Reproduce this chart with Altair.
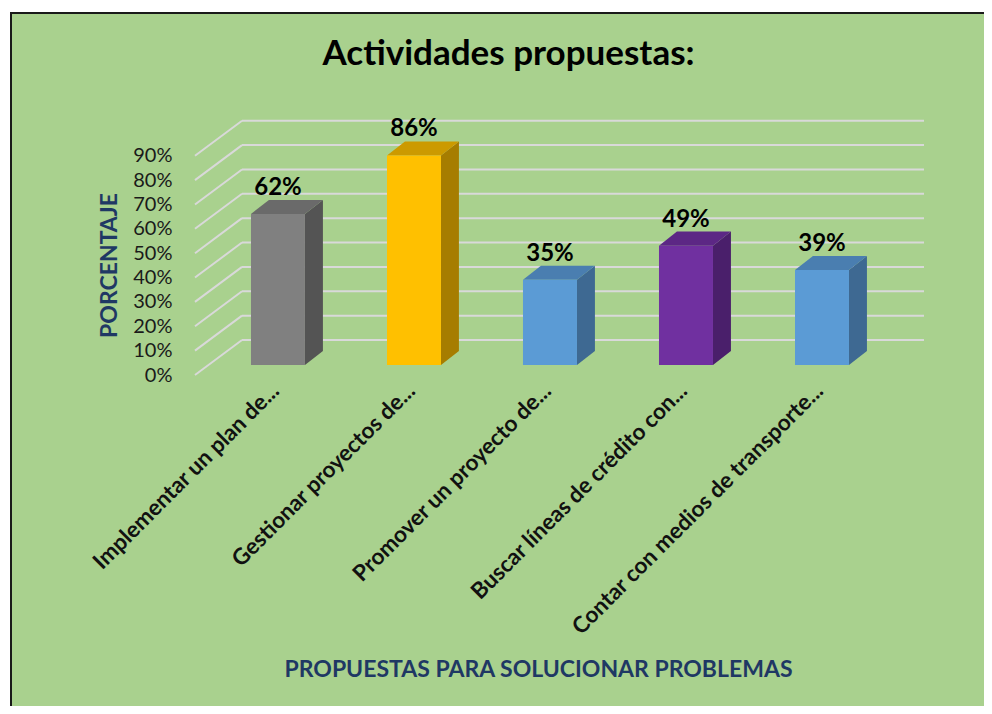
import json
import altair as alt
import pandas as pd

# ---------------- data ----------------
CATEGORIES = [
    "Implementar un plan de...",
    "Gestionar  proyectos de...",
    "Promover un proyecto de...",
    "Buscar líneas de crédito con...",
    "Contar con medios de transporte...",
]
VALUES = [0.62, 0.86, 0.35, 0.49, 0.39]
TICKS = [0.0, 0.1, 0.2, 0.3, 0.4, 0.5, 0.6, 0.7, 0.8, 0.9]

TITLE = "Actividades propuestas:"
X_TITLE = "PROPUESTAS PARA SOLUCIONAR PROBLEMAS"
Y_TITLE = "PORCENTAJE"

# ---------------- styles ----------------
FRONT = ["#808080", "#FFC000", "#5B9BD5", "#7030A0", "#5B9BD5"]
TOP = ["#6A6A6A", "#CC9A00", "#4A7EB0", "#5C2785", "#4A7EB0"]
SIDE = ["#545454", "#A67D00", "#3E6992", "#4A1F6B", "#3E6992"]
BG = "#A9D18E"
GRID = "#D9D9D9"
NAVY = "#1F3864"
FONT = "Lato"

# pseudo-3D geometry (in scale units)
HALF_W = 0.1985
SIDE_X = 0.132
SIDE_Y = 0.0575
BASE_Y = 0.041
WALL_X = 0.3456
WALL_Y = 0.1437
X_DOMAIN = [-0.61, 4.75]
Y_DOMAIN = [0.0, 1.1]

# ---------------- tables ----------------
bars = pd.DataFrame({
    "i": list(range(len(CATEGORIES))),
    "cat": CATEGORIES,
    "v": VALUES,
    "front": FRONT,
})
bars["x0"] = bars["i"] - HALF_W
bars["x1"] = bars["i"] + HALF_W
bars["y0"] = BASE_Y
bars["y1"] = BASE_Y + bars["v"]
bars["ylab"] = bars["y1"] + SIDE_Y
bars["label"] = [f"{round(v * 100)}%" for v in VALUES]

side_rows, top_rows = [], []
for i, (c, v) in enumerate(zip(CATEGORIES, VALUES)):
    side_rows.append({"cat": c, "col": SIDE[i], "x": i + HALF_W, "yu": BASE_Y + v, "yl": BASE_Y})
    side_rows.append({"cat": c, "col": SIDE[i], "x": i + HALF_W + SIDE_X,
                      "yu": BASE_Y + v + SIDE_Y, "yl": BASE_Y + SIDE_Y})
    top_rows.append({"cat": c, "col": TOP[i], "y": BASE_Y + v, "xl": i - HALF_W, "xr": i + HALF_W})
    top_rows.append({"cat": c, "col": TOP[i], "y": BASE_Y + v + SIDE_Y,
                     "xl": i - HALF_W + SIDE_X, "xr": i + HALF_W + SIDE_X})
side = pd.DataFrame(side_rows)
top = pd.DataFrame(top_rows)

grid = pd.DataFrame({"t": TICKS})
grid["xf"] = X_DOMAIN[0]
grid["xb"] = X_DOMAIN[0] + WALL_X
grid["yb"] = grid["t"] + WALL_Y
grid["xe"] = X_DOMAIN[1]

# ---------------- scales / axes ----------------
label_expr = json.dumps(CATEGORIES, ensure_ascii=False) + "[datum.value]"
xscale = alt.Scale(domain=X_DOMAIN, nice=False, zero=False)
yscale = alt.Scale(domain=Y_DOMAIN, nice=False, zero=False)

xaxis = alt.Axis(
    values=list(range(len(CATEGORIES))), labelExpr=label_expr, title=X_TITLE,
    grid=False, domain=False, ticks=False, labelAngle=-45, labelAlign="right",
    labelBaseline="middle", labelPadding=12, labelOffset=-3, labelFont=FONT,
    labelFontSize=22.5, labelFontWeight="bold", labelColor="#111111", labelLimit=400,
    labelOverlap=False, titleFont=FONT, titleFontSize=23, titleFontWeight="bold",
    titleColor=NAVY, titleX=343, titleY=283, titleAlign="center", titleBaseline="top",
    zindex=1,
)
yaxis = alt.Axis(
    values=TICKS, format=".0%", title=Y_TITLE, grid=False, domain=False, ticks=False,
    labelPadding=23, labelFont=FONT, labelFontSize=20, labelColor="#1a1a1a",
    labelOverlap=False, titleFont=FONT, titleFontSize=23, titleFontWeight="bold",
    titleColor=NAVY, titleX=-86, titleY=158, titleAngle=270, titleAlign="center",
    titleBaseline="middle", zindex=1,
)


def X(field):
    return alt.X(field, type="quantitative", scale=xscale, axis=xaxis)


def Y(field):
    return alt.Y(field, type="quantitative", scale=yscale, axis=yaxis)


frame = alt.Chart(pd.DataFrame({"a": [0]})).mark_rect(
    fill=BG, stroke="#1a1a1a", strokeWidth=2
).encode(
    x=alt.value(-184), x2=alt.value(792), y=alt.value(-94), y2=alt.value(602)
)

back_lines = alt.Chart(grid).mark_rule(color=GRID, strokeWidth=2).encode(
    x=X("xb"), x2="xe", y=Y("yb")
)
floor_lines = alt.Chart(grid).mark_rule(color=GRID, strokeWidth=2).encode(
    x=X("xf"), x2="xb", y=Y("t"), y2="yb"
)

side_faces = alt.Chart(side).mark_area(orient="vertical").encode(
    x=X("x"), y=Y("yu"), y2="yl", detail="cat:N",
    color=alt.Color("col:N", scale=None),
)
top_faces = alt.Chart(top).mark_area(orient="horizontal").encode(
    y=Y("y"), x=X("xl"), x2="xr", detail="cat:N",
    color=alt.Color("col:N", scale=None),
)
front_faces = alt.Chart(bars).mark_rect().encode(
    x=X("x0"), x2="x1", y=Y("y0"), y2="y1",
    color=alt.Color("front:N", scale=None),
)
labels = alt.Chart(bars).mark_text(
    font=FONT, fontSize=24, fontWeight="bold", color="#000000",
    baseline="alphabetic", dy=-5,
).encode(x=X("i"), y=Y("ylab"), text="label:N")

chart = alt.layer(
    frame, back_lines, floor_lines, side_faces, top_faces, front_faces, labels
).properties(
    width=729, height=268,
    padding={"left": 187, "top": 99, "right": 60, "bottom": 331},
    autosize=alt.AutoSizeParams(type="none"),
    title=alt.TitleParams(
        TITLE, font=FONT, fontSize=35, fontWeight="bold", color="#000000",
        anchor="middle", dx=-51, offset=-88, baseline="alphabetic", zindex=1,
        frame="group",
    ),
).configure(background="white").configure_view(stroke=None)

chart.save("out.html", embed_options={"renderer": "svg", "actions": False})
